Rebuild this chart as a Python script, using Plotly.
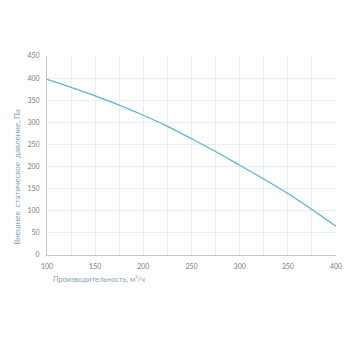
import plotly.graph_objects as go

flow = [100, 125, 150, 175, 200, 225, 250, 275, 300, 325, 350, 375, 400]
pressure = [397, 379, 360, 339, 316, 291, 263, 234, 203, 172, 139, 103, 65]

x_title = "Производительность, м³/ч"
y_title = "Внешнее  статическое  давление, Па"

fig = go.Figure()
fig.add_trace(go.Scatter(x=flow, y=pressure, mode="lines", line=dict(color="#5ab4d6", width=1.3, shape="spline"),
                         hoverinfo="skip"))

grid = "#e6eef1"
tickfont = dict(size=7, color="#7d7d7d")
fig.update_layout(
    width=356, height=356,
    margin=dict(l=39, r=28, t=48, b=109),
    paper_bgcolor="white", plot_bgcolor="white",
    showlegend=False,
    font=dict(family="Lato, Open Sans, sans-serif", size=7, color="#777777"),
    xaxis=dict(range=[100, 400], dtick=50, tick0=100, showgrid=True, gridcolor=grid, gridwidth=1,
               minor=dict(dtick=25, showgrid=True, gridcolor=grid, gridwidth=1),
               showline=True, linecolor="#c8c8c8", linewidth=1, zeroline=False,
               ticks="outside", ticklen=5, tickcolor="rgba(0,0,0,0)", tickfont=tickfont),
    yaxis=dict(range=[0, 450], dtick=50, showgrid=True, gridcolor=grid, gridwidth=1,
               showline=True, linecolor="#c8c8c8", linewidth=1, zeroline=False,
               ticks="outside", ticklen=5, tickcolor="rgba(0,0,0,0)", tickfont=tickfont),
    annotations=[
        dict(text=x_title, xref="paper", yref="paper", x=0.18, y=-0.124, xanchor="center", yanchor="middle",
             showarrow=False, font=dict(size=7.5, color="#8aa2b2")),
        dict(text=y_title, xref="paper", yref="paper", x=-0.104, y=0.393, xanchor="center", yanchor="middle",
             textangle=-90, showarrow=False, font=dict(size=8, color="#8aa2b2")),
    ],
)
fig.write_html("out.html")
